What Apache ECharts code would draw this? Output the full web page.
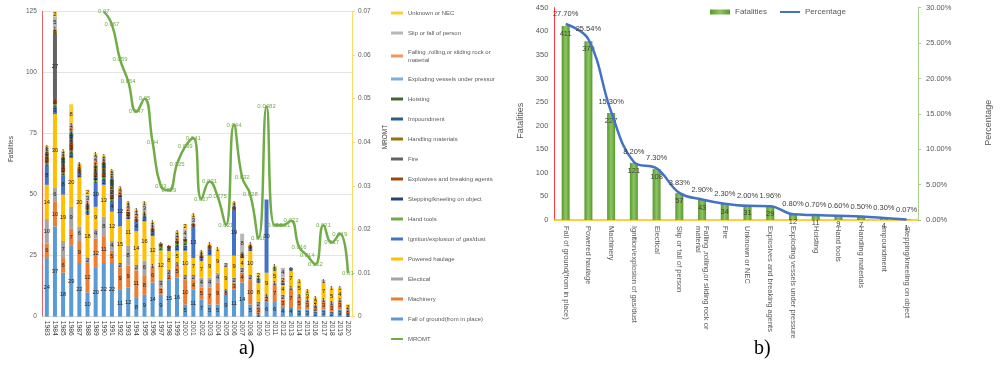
<!DOCTYPE html>
<html>
<head>
<meta charset="utf-8">
<script src="https://cdn.jsdelivr.net/npm/echarts@6/dist/echarts.min.js"></script>
<style>
html, body { margin: 0; padding: 0; background: #fff; width: 1001px; height: 368px; overflow: hidden; }
#chartA { position: absolute; left: 0; top: 0; width: 495px; height: 368px; }
#chartB { position: absolute; left: 495px; top: 0; width: 506px; height: 368px; }
</style>
</head>
<body>
<div id="chartA"></div>
<div id="chartB"></div>
<script>
// ---------- a) fatalities per year by accident class, with MROMT ----------
const years = ['1983','1984','1985','1986','1987','1988','1989','1990','1991','1992',
  '1993','1994','1995','1996','1997','1998','1999','2000','2001','2002',
  '2003','2004','2005','2006','2007','2008','2009','2010','2011','2012',
  '2013','2014','2015','2016','2017','2018','2019','2020'];

const fallOfGround = [24,37,18,29,22,10,20,22,22,11,12,8,9,14,9,15,16,5,11,7,5,5,9,11,14,5,1,6,6,4,4,3,3,2,3,2,3,1];
const machinery    = [6,10,6,7,9,12,12,11,5,9,9,11,8,6,3,2,5,10,4,5,7,9,1,3,4,10,3,2,7,3,7,5,3,2,3,3,3,1];
const electical    = [10,6,7,9,6,2,4,8,4,2,8,2,6,1,3,2,1,2,2,4,4,4,1,2,2,2,2,1,1,2,1,1,1,1,1,1,1,1];
const poweredHaul  = [14,30,19,20,20,18,9,13,12,15,11,14,16,12,12,8,5,10,7,7,9,9,9,9,4,10,8,9,5,4,7,5,3,2,7,5,4,2];
const ignition     = [8,3,8,2,2,1,10,2,4,12,1,4,2,2,0,1,2,2,13,1,3,0,0,19,0,1,1,30,0,1,1,0,0,0,0,0,0,0];
const handTools    = [1,1,1,1,0,1,1,1,1,0,0,0,1,0,2,0,1,2,0,0,0,0,0,0,0,0,1,0,1,0,0,0,0,0,0,0,0,0];
const stepping     = [0,0,0,0,0,0,1,0,0,0,0,0,0,0,0,0,0,0,0,0,0,0,0,0,0,0,0,0,0,0,0,0,0,0,0,0,0,0];
const explosives   = [2,2,2,3,1,1,2,2,2,1,2,1,0,1,1,1,1,1,1,1,1,0,0,1,1,1,0,0,0,0,0,0,0,0,0,0,0,0];
const fire         = [0,27,1,1,0,1,1,1,2,0,0,0,0,0,0,0,0,0,0,0,0,0,0,0,0,0,0,0,0,0,0,0,0,0,0,0,0,0];
const handling     = [1,1,1,1,1,0,1,1,2,0,0,0,0,0,0,0,0,0,0,0,0,0,0,0,1,0,0,0,0,0,0,0,0,0,0,0,0,0];
const impoundment  = [0,0,1,1,0,0,0,1,1,0,0,0,0,0,0,0,0,0,0,0,0,0,0,0,0,0,0,0,0,0,0,0,0,0,0,0,0,0];
const hoisting     = [1,0,1,1,0,0,1,1,1,0,0,0,0,0,0,0,0,0,0,0,0,0,0,0,0,0,0,0,0,0,0,0,0,0,0,0,0,0];
const vessels      = [0,0,0,1,0,0,0,0,1,0,0,0,0,0,0,0,0,0,0,0,0,0,0,0,0,0,0,0,0,0,0,0,0,0,0,0,0,0];
const fallingRock  = [1,1,1,2,1,1,2,1,1,2,2,2,1,1,0,0,2,0,0,0,0,0,0,0,0,0,0,0,0,2,0,0,0,0,0,0,0,0];
const slipOrFall   = [1,5,1,1,0,3,2,1,1,0,1,1,3,1,0,0,1,4,3,1,0,0,2,1,8,0,0,0,0,4,0,0,0,0,1,0,0,0];
const unknownNEC   = [1,2,1,8,1,2,1,1,1,1,1,1,1,1,0,0,1,2,1,1,1,1,0,1,0,1,2,0,1,0,0,1,1,1,0,1,1,0];

// MROMT is reported from 1990 on
const mromt = [null,null,null,null,null,null,null,
  0.07,0.067,0.059,0.054,0.047,0.05,0.04,0.03,0.029,0.035,0.039,0.041,0.027,
  0.031,0.0275,0.021,0.044,0.032,0.028,0.018,0.0482,0.021,0.021,0.022,0.016,
  0.014,0.012,0.021,0.017,0.019,0.01];

// ---------- b) totals by accident class, with share ----------
const classes = ['Fall of ground(from in place)','Powered haulage','Machinery',
  'Ignition/explosion of gas/dust','Electical','Slip or fall of person',
  'Falling ,rolling,or sliding rock or material','Fire','Unknown or NEC',
  'Explosives and breaking agents','Exploding vessels under pressure','Hoisting',
  'Hand tools','Handling materials','Impoundment','Stepping/kneeling on object'];
const classFatalities = [411,379,227,121,108,57,43,34,31,29,12,11,9,7,4,1];
const classPercentage = [0.277,0.2554,0.153,0.082,0.073,0.0383,0.029,0.023,0.02,0.0196,0.008,0.007,0.006,0.005,0.003,0.0007];

const FONT = "'Liberation Sans', Arial, sans-serif";
const SERIF = "'Liberation Serif', 'DejaVu Serif', serif";
const FALLING = 'Falling ,rolling,or sliding rock or material';
const wrapName = n => n === FALLING ? 'Falling ,rolling,or sliding rock or\nmaterial' : n;

// stacking order, bottom to top
const stackDefs = [
  ['Fall of ground(from in place)', fallOfGround, '#5B9BD5'],
  ['Machinery', machinery, '#ED7D31'],
  ['Electical', electical, '#A5A5A5'],
  ['Powered haulage', poweredHaul, '#FFC000'],
  ['Ignition/explosion of gas/dust', ignition, '#4472C4'],
  ['Hand tools', handTools, '#70AD47'],
  ['Stepping/kneeling on object', stepping, '#264478'],
  ['Explosives and breaking agents', explosives, '#9E480E'],
  ['Fire', fire, '#636363'],
  ['Handling materials', handling, '#997300'],
  ['Impoundment', impoundment, '#255E91'],
  ['Hoisting', hoisting, '#43682B'],
  ['Exploding vessels under pressure', vessels, '#7CAFDD'],
  [FALLING, fallingRock, '#F1975A'],
  ['Slip or fall of person', slipOrFall, '#B7B7B7'],
  ['Unknown or NEC', unknownNEC, '#FFCD33']
];

const barSeriesA = stackDefs.map(([name, data, color]) => ({
  name, type: 'bar', stack: 'total', data, barWidth: 4,
  itemStyle: { color },
  label: {
    show: true, position: 'inside', fontSize: 5.8, color: '#262626', fontFamily: FONT,
    formatter: p => (p.value > 0 ? String(p.value) : '')
  },
  emphasis: { disabled: true }
}));

// legend lists the stack top-down, then the line
const legendA = stackDefs.map(d => ({ name: d[0], icon: 'rect' })).reverse()
  .concat([{ name: 'MROMT' }]);

const chartA = echarts.init(document.getElementById('chartA'));
chartA.setOption({
  animation: false,
  textStyle: { fontFamily: FONT },
  title: {
    text: 'a)', left: 239, top: 339, padding: 0,
    textStyle: { fontFamily: SERIF, fontSize: 20, fontWeight: 'normal', color: '#000' }
  },
  grid: { left: 25, right: 143, top: 11.5, bottom: 51.3 },
  legend: {
    orient: 'vertical', left: 385, top: 4, selectedMode: false,
    itemWidth: 12, itemHeight: 3, itemGap: 12,
    data: legendA,
    formatter: wrapName,
    textStyle: { fontSize: 6, color: '#595959', lineHeight: 8, height: 8, fontFamily: FONT }
  },
  xAxis: {
    type: 'category', data: years,
    axisLine: { lineStyle: { color: '#d9d9d9' } },
    axisTick: { show: false },
    axisLabel: { rotate: -90, interval: 0, fontSize: 6.8, color: '#404040', margin: 4 }
  },
  yAxis: [{
    type: 'value', min: 0, max: 125, interval: 25,
    axisLine: { show: true, lineStyle: { color: '#e06666' } },
    axisTick: { show: false },
    axisLabel: { fontSize: 6.5, color: '#595959', margin: 6 },
    splitLine: { lineStyle: { color: '#e4e4e4' } },
    name: 'Fatalities', nameLocation: 'middle', nameGap: 15,
    nameTextStyle: { fontSize: 6.5, color: '#404040', padding: [0, 0, 0, 30] }
  }, {
    type: 'value', min: 0, max: 0.07, interval: 0.01, position: 'right',
    axisLine: { show: true, lineStyle: { color: '#ffd966' } },
    axisTick: { show: true, length: 3, lineStyle: { color: '#ffd966' } },
    axisLabel: { fontSize: 6.5, color: '#595959', margin: 6,
      formatter: v => (v === 0 ? '0' : v.toFixed(2)) },
    splitLine: { show: false },
    name: 'MROMT', nameLocation: 'middle', nameGap: 20,
    nameTextStyle: { fontSize: 6.5, color: '#404040', padding: [0, 0, 0, 54] }
  }],
  series: barSeriesA.concat([{
    name: 'MROMT', type: 'line', yAxisIndex: 1, data: mromt,
    smooth: 0.5, symbol: 'circle', symbolSize: 2, connectNulls: false,
    lineStyle: { color: '#70AD47', width: 2.5 },
    itemStyle: { color: 'rgba(0,0,0,0)' },
    label: { show: true, position: 'inside', fontSize: 6, color: '#70AD47',
      formatter: p => String(p.value) },
    emphasis: { disabled: true },
    z: 5
  }])
});

// ---------- b) ----------
const chartB = echarts.init(document.getElementById('chartB'));
chartB.setOption({
  animation: false,
  textStyle: { fontFamily: FONT },
  title: {
    text: 'b)', left: 259, top: 339, padding: 0,
    textStyle: { fontFamily: SERIF, fontSize: 20, fontWeight: 'normal', color: '#000' }
  },
  grid: { left: 59.3, right: 73.6, top: 7.7, bottom: 148 },
  legend: {
    left: 210, top: 3, selectedMode: false, itemWidth: 20, itemHeight: 5, itemGap: 12,
    data: [{ name: 'Fatalities', icon: 'rect' }, { name: 'Percentage' }],
    textStyle: { fontSize: 8, color: '#595959' }
  },
  xAxis: {
    type: 'category', data: classes,
    axisLine: { lineStyle: { color: '#FFC000', width: 1.5 } },
    axisTick: { show: false },
    axisLabel: { rotate: -90, interval: 0, fontSize: 7.5, color: '#595959', margin: 6,
      formatter: wrapName, lineHeight: 8.5 }
  },
  yAxis: [{
    type: 'value', min: 0, max: 450, interval: 50,
    axisLine: { show: true, lineStyle: { color: '#ff3b3b' } },
    axisTick: { show: false },
    axisLabel: { fontSize: 7.5, color: '#595959', margin: 6 },
    splitLine: { show: false },
    name: 'Fatalities', nameLocation: 'middle', nameGap: 22,
    nameTextStyle: { fontSize: 9, color: '#595959', padding: [0, 14, 0, 0] }
  }, {
    type: 'value', min: 0, max: 0.3, interval: 0.05, position: 'right',
    axisLine: { show: true, lineStyle: { color: '#a9d18e' } },
    axisTick: { show: true, length: 3, lineStyle: { color: '#a9d18e' } },
    axisLabel: { fontSize: 7.5, color: '#595959', margin: 8,
      formatter: v => (v * 100).toFixed(2) + '%' },
    splitLine: { show: false },
    name: 'Percentage', nameLocation: 'middle', nameGap: 66,
    nameTextStyle: { fontSize: 9, color: '#595959', padding: [0, 18, 0, 0] }
  }],
  series: [{
    name: 'Fatalities', type: 'bar', data: classFatalities, barWidth: 8,
    itemStyle: {
      color: new echarts.graphic.LinearGradient(0, 0, 1, 0, [
        { offset: 0, color: '#5a982f' },
        { offset: 0.5, color: '#8cc663' },
        { offset: 1, color: '#5a982f' }
      ])
    },
    label: { show: true, position: 'insideTop', distance: 4, fontSize: 7.5, color: '#404040' },
    emphasis: { disabled: true }
  }, {
    name: 'Percentage', type: 'line', yAxisIndex: 1, data: classPercentage,
    smooth: 0.4, symbol: 'circle', symbolSize: 2,
    lineStyle: { color: '#4472C4', width: 2.5 },
    itemStyle: { color: 'rgba(0,0,0,0)' },
    label: { show: true, position: 'top', distance: 5, fontSize: 7.5, color: '#404040',
      formatter: p => (p.value * 100).toFixed(2) + '%' },
    emphasis: { disabled: true },
    z: 5
  }]
});
</script>
</body>
</html>
